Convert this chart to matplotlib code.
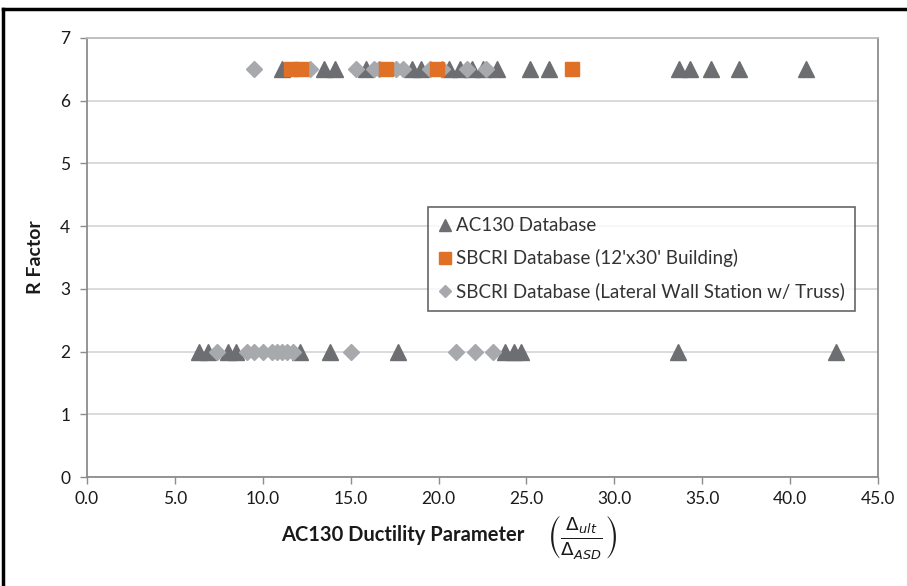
import matplotlib
matplotlib.use("Agg")
import matplotlib.pyplot as plt
from matplotlib.lines import Line2D

# ---- data ----
ac130_x_r65 = [11.1, 13.5, 14.1, 15.9, 18.5, 19.0, 20.6, 21.2, 21.9, 22.5, 23.3,
               25.2, 26.3, 33.7, 34.3, 35.5, 37.1, 40.9]
ac130_x_r2 = [6.4, 6.9, 8.0, 8.5, 12.1, 13.8, 17.7, 23.8, 24.3, 24.7, 33.6, 42.6]
sbcri_bldg_x = [11.6, 12.2, 17.0, 19.9, 27.6]
sbcri_bldg_r = [6.5, 6.5, 6.5, 6.5, 6.5]
sbcri_wall_x_r65 = [9.5, 12.7, 15.3, 16.3, 16.6, 17.6, 18.0, 19.5, 20.2, 21.6, 22.7]
sbcri_wall_x_r2 = [7.4, 9.1, 9.5, 10.0, 10.5, 10.8, 11.1, 11.4, 11.7, 15.0, 21.0, 22.1, 23.1]

r_high = 6.5
r_low = 2.0

xticks = [0, 5, 10, 15, 20, 25, 30, 35, 40, 45]
yticks = [0, 1, 2, 3, 4, 5, 6, 7]

c_tri = "#6d6e71"
c_sq = "#df7026"
c_dia = "#a7a9ac"

plt.rcParams['font.family'] = ['Lato', 'DejaVu Sans']

fig = plt.figure(figsize=(9.07, 5.86), dpi=100)
ax = fig.add_axes([87/907, 1-477/586, (878-87)/907, (477-38)/586])

ax.plot(ac130_x_r65, [r_high]*len(ac130_x_r65), linestyle='none', marker='^',
        ms=12, color=c_tri, mec=c_tri, zorder=3)
ax.plot(ac130_x_r2, [r_low]*len(ac130_x_r2), linestyle='none', marker='^',
        ms=12, color=c_tri, mec=c_tri, zorder=3)
ax.plot(sbcri_wall_x_r65, [r_high]*len(sbcri_wall_x_r65), linestyle='none', marker='D',
        ms=8, color=c_dia, mec=c_dia, zorder=4)
ax.plot(sbcri_wall_x_r2, [r_low]*len(sbcri_wall_x_r2), linestyle='none', marker='D',
        ms=8, color=c_dia, mec=c_dia, zorder=4)
ax.plot(sbcri_bldg_x, sbcri_bldg_r, linestyle='none', marker='s',
        ms=9.5, color=c_sq, mec=c_sq, zorder=5)

ax.set_xlim(0, 45)
ax.set_ylim(0, 7)
ax.set_xticks(xticks)
ax.set_xticklabels([f"{v:.1f}" for v in xticks])
ax.set_yticks(yticks)
ax.set_yticklabels([str(v) for v in yticks])
ax.grid(axis='y', color='#d4d4d4', linewidth=1.2)
ax.set_axisbelow(True)
for s in ax.spines.values():
    s.set_color('#8c8c8c')
    s.set_linewidth(1.3)
ax.spines['top'].set_color('#bdbdbd')
ax.tick_params(axis='both', colors='#8c8c8c', labelcolor='#1a1a1a', labelsize=12.5,
               length=5, width=1)
ax.tick_params(axis='x', pad=5)
ax.tick_params(axis='y', pad=7)

ax.set_ylabel("R Factor", fontsize=14, fontweight='bold', color='#1a1a1a', labelpad=12)
fig.text(403/907, 1-535/586, "AC130 Ductility Parameter", fontsize=14.5,
         fontweight='bold', color='#1a1a1a', ha='center', va='center')
fig.text(582/907, 1-537/586, r'$\left(\frac{\Delta_{ult}}{\Delta_{ASD}}\right)$',
         fontsize=19, color='#1a1a1a', ha='center', va='center')

handles = [
    Line2D([], [], linestyle='none', marker='^', ms=9, color=c_tri),
    Line2D([], [], linestyle='none', marker='s', ms=9, color=c_sq),
    Line2D([], [], linestyle='none', marker='D', ms=6, color=c_dia),
]
labels = ["AC130 Database", "SBCRI Database (12'x30' Building)",
          "SBCRI Database (Lateral Wall Station w/ Truss)"]
leg = ax.legend(handles, labels, loc='upper left',
                bbox_to_anchor=((428-87)/791, (477-207)/439),
                borderaxespad=0, fontsize=13.5, frameon=True, fancybox=False,
                handlelength=0.7, handletextpad=0.25, labelspacing=0.8,
                borderpad=0.55, labelcolor='#333333')
leg.get_frame().set_edgecolor('#404040')
leg.get_frame().set_linewidth(1.2)

# outer frame (left and top edges visible)
fig.add_artist(Line2D([3/907, 3/907], [0, 1-9/586], transform=fig.transFigure,
                      color='black', linewidth=2.5))
fig.add_artist(Line2D([3/907, 1], [1-9/586, 1-9/586], transform=fig.transFigure,
                      color='black', linewidth=2.5))

fig.savefig("out.png", dpi=100)
